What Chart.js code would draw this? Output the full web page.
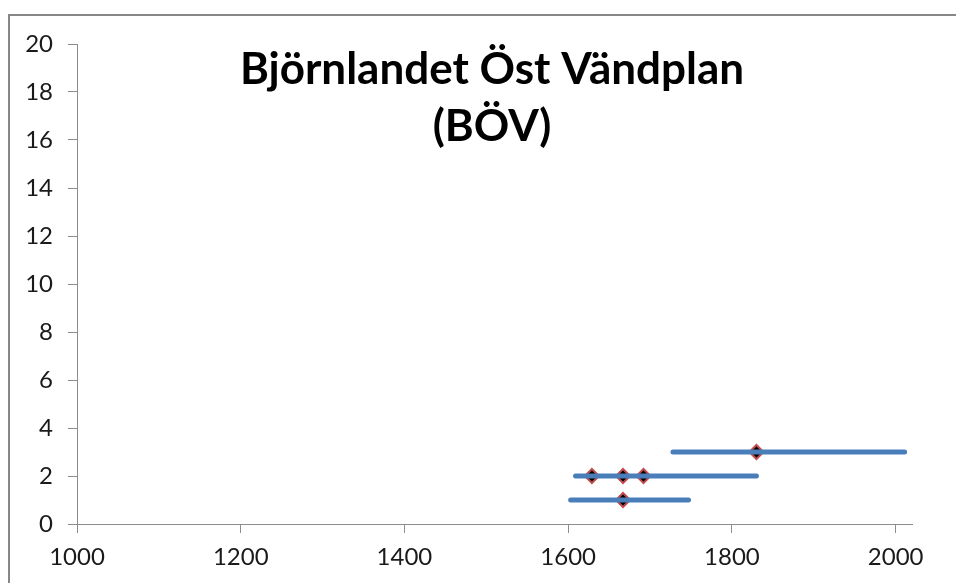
<!DOCTYPE html>
<html>
<head>
<meta charset="utf-8">
<title>Björnlandet Öst Vändplan (BÖV)</title>
<script src="https://cdn.jsdelivr.net/npm/chart.js@4.4.1/dist/chart.umd.min.js"></script>
<style>
    html, body { margin: 0; padding: 0; background: #fff; overflow: hidden; }
    /* grey frame round the chart, running off the right and bottom edge */
    #frame { position: absolute; left: 8px; top: 14px; width: 1000px; height: 620px; border: 2px solid #878787; }
    #wrap { position: absolute; left: 0; top: 0; width: 956px; height: 583px; }
</style>
</head>
<body>
<div id="frame"></div>
<div id="wrap"><canvas id="chart" width="956" height="583"></canvas></div>
<script>
(function() {
    'use strict';

    // Chart data
    const titleLines = ['Björnlandet Öst Vändplan', '(BÖV)'];
    const xTicks = [1000, 1200, 1400, 1600, 1800, 2000];
    const rangeLevels = [1, 2, 3];
    const rangeStart = [1603, 1609, 1728];
    const rangeEnd = [1747, 1830, 2011];
    const pointX = [1667, 1629, 1667, 1692, 1830];
    const pointY = [1, 2, 2, 2, 3];

    const axisColor = '#8c8c8c';
    const tickFont = { family: 'Lato', size: 24 };

    // One two-point line per level
    const datasets = rangeLevels.map((level, i) => ({
        label: 'Range ' + level,
        data: [{ x: rangeStart[i], y: level }, { x: rangeEnd[i], y: level }],
        showLine: true,
        borderColor: '#4a7ebb',
        borderWidth: 5,
        borderCapStyle: 'round',
        pointRadius: 0,
        pointHoverRadius: 0
    }));

    // Diamond markers on top
    datasets.push({
        label: 'Points',
        data: pointX.map((x, i) => ({ x: x, y: pointY[i] })),
        pointStyle: 'rectRot',
        pointRadius: 7,
        pointBorderWidth: 2,
        pointBackgroundColor: '#000',
        pointBorderColor: '#bf4b4b',
        showLine: false
    });

    // Two-line title drawn over the plot area
    const titlePlugin = {
        id: 'overlayTitle',
        afterDraw(chart) {
            const ctx = chart.ctx;
            ctx.save();
            ctx.fillStyle = '#000';
            ctx.font = 'bold 44px Lato';
            ctx.textAlign = 'center';
            ctx.textBaseline = 'alphabetic';
            ctx.fillText(titleLines[0], 492, 84);
            ctx.fillText(titleLines[1], 492, 141);
            ctx.restore();
        }
    };

    new Chart(document.getElementById('chart'), {
        type: 'scatter',
        data: { datasets: datasets },
        plugins: [titlePlugin],
        options: {
            responsive: false,
            animation: false,
            layout: { padding: { left: 0, top: 44, right: 44, bottom: 0 } },
            plugins: {
                legend: { display: false },
                tooltip: { enabled: false }
            },
            scales: {
                x: {
                    type: 'linear',
                    min: 1000,
                    max: 2020,
                    afterBuildTicks: (scale) => {
                        scale.ticks = xTicks.map(v => ({ value: v }));
                    },
                    afterFit: (scale) => { scale.height = 59; },
                    grid: { drawOnChartArea: false, drawTicks: true, tickLength: 9, color: axisColor },
                    border: { color: axisColor, width: 1 },
                    ticks: { font: tickFont, color: '#1a1a1a', padding: 10, maxRotation: 0,
                             callback: (v) => String(v) }
                },
                y: {
                    min: 0,
                    max: 20,
                    afterFit: (scale) => { scale.width = 77; },
                    grid: { drawOnChartArea: false, drawTicks: true, tickLength: 9, color: axisColor },
                    border: { color: axisColor, width: 1 },
                    ticks: { stepSize: 2, font: tickFont, color: '#1a1a1a', padding: 15 }
                }
            }
        }
    });
})();
</script>
</body>
</html>
